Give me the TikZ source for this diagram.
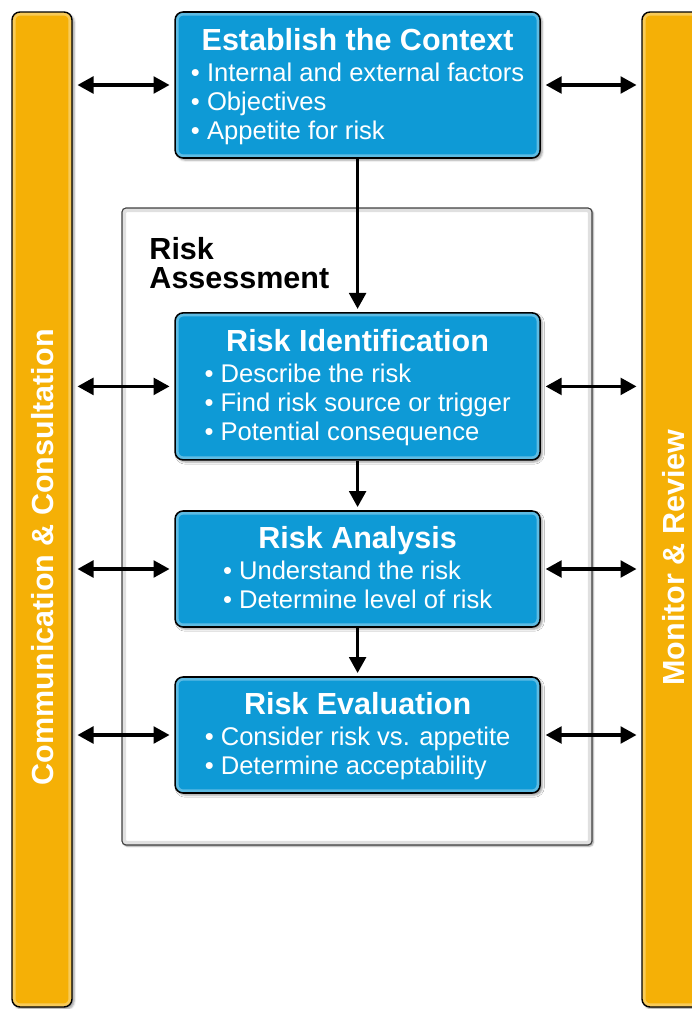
\documentclass[tikz,border=0pt]{standalone}
\usepackage{fontspec}
\setmainfont{Liberation Sans}
\usetikzlibrary{arrows.meta,shadows.blur}
\definecolor{stageblue}{RGB}{14,154,214}
\definecolor{barorange}{RGB}{245,176,6}
\newcommand{\stagetitle}[1]{{\bfseries\fontsize{21.7}{26}\selectfont\rule{0pt}{20pt}#1}}
\newcommand{\stagepoints}[1]{{\fontsize{18.2}{20.6}\selectfont\begin{tabular}[t]{@{}l@{}}#1\end{tabular}}}
\begin{document}
\begin{tikzpicture}[
    stage/.style={draw=black, line width=1.1pt, fill=stageblue, rounded corners=0.2cm,
      text=white, align=center, minimum width=9.125cm, inner sep=0pt,
      font=\fontsize{18.2}{22}\selectfont,
      blur shadow={shadow xshift=1.5pt, shadow yshift=-1.5pt, shadow blur radius=1.5pt},
      path picture={\draw[stageblue!45!white, line width=5pt, opacity=0.6, rounded corners=0.2cm]
        (path picture bounding box.south west) rectangle (path picture bounding box.north east);}},
    sidebar/.style={draw=black, line width=1pt, fill=barorange, rounded corners=0.2cm,
      minimum width=1.5cm, minimum height=24.875cm, inner sep=0pt,
      blur shadow={shadow xshift=1.5pt, shadow yshift=-1.5pt, shadow blur radius=1.5pt},
      path picture={\draw[barorange!45!white, line width=5pt, opacity=0.6, rounded corners=0.2cm]
        (path picture bounding box.south west) rectangle (path picture bounding box.north east);}},
    sidetext/.style={rotate=90, text=white, inner sep=0pt, font=\bfseries\fontsize{21.7}{26}\selectfont},
    link/.style={line width=2.2pt, -{Triangle[length=0.4cm,width=0.42cm]}, shorten >=0.08cm},
    both/.style={line width=2.2pt, {Triangle[length=0.4cm,width=0.42cm]}-{Triangle[length=0.4cm,width=0.42cm]},
      shorten <=0.12cm, shorten >=0.12cm}
  ]
  \useasboundingbox (0,0) rectangle (17.3,-25.225);
  % side bars
  \node[sidebar] (lbar) at (1.05,-12.7375) {};
  \node[sidebar] (rbar) at (16.8,-12.7375) {};
  \node[sidetext] (cclabel) at (1.07,-13.93) {Communication \& Consultation};
  \node[sidetext] (mrlabel) at (16.84,-13.94) {Monitor \& Review};
  % assessment frame
  \node[draw=black!75, line width=0.8pt, fill=white, rounded corners=0.1cm,
    minimum width=11.75cm, minimum height=15.925cm,
    blur shadow={shadow xshift=1pt, shadow yshift=-1pt, shadow blur radius=1pt},
    path picture={\draw[black!12, line width=6pt, rounded corners=0.1cm]
      (path picture bounding box.south west) rectangle (path picture bounding box.north east);}]
    (frame) at (8.925,-13.1625) {};
  \node[anchor=north west, align=left, inner sep=0pt, font=\bfseries\fontsize{21.7}{20.6}\selectfont]
    (ralabel) at (3.73,-5.93) {Risk\\Assessment};
  % stages
  \node[stage, minimum height=3.65cm] (ctx) at (8.94,-2.125)
    {\stagetitle{Establish the Context}\\
     \stagepoints{\textbullet\ Internal and external factors\\ \textbullet\ Objectives\\ \textbullet\ Appetite for risk}};
  \node[stage, minimum height=3.675cm] (ident) at (8.94,-9.66)
    {\stagetitle{Risk Identification}\\
     \stagepoints{\textbullet\ Describe the risk\\ \textbullet\ Find risk source or trigger\\ \textbullet\ Potential consequence}};
  \node[stage, minimum height=2.9cm] (analysis) at (8.94,-14.225)
    {\stagetitle{Risk Analysis}\\
     \stagepoints{\textbullet\ Understand the risk\\ \textbullet\ Determine level of risk}};
  \node[stage, minimum height=2.9cm] (evaluation) at (8.94,-18.375)
    {\stagetitle{Risk Evaluation}\\
     \stagepoints{\textbullet\ Consider risk vs. appetite\\ \textbullet\ Determine acceptability}};
  % flow
  \draw[link] (ctx) -- (ident);
  \draw[link] (ident) -- (analysis);
  \draw[link] (analysis) -- (evaluation);
  % links to the side bars
  \draw[both] (lbar.east |- ctx.west) -- (ctx.west);
  \draw[both] (ctx.east) -- (rbar.west |- ctx.east);
  \draw[both] (lbar.east |- ident.west) -- (ident.west);
  \draw[both] (ident.east) -- (rbar.west |- ident.east);
  \draw[both] (lbar.east |- analysis.west) -- (analysis.west);
  \draw[both] (analysis.east) -- (rbar.west |- analysis.east);
  \draw[both] (lbar.east |- evaluation.west) -- (evaluation.west);
  \draw[both] (evaluation.east) -- (rbar.west |- evaluation.east);
\end{tikzpicture}
\end{document}
